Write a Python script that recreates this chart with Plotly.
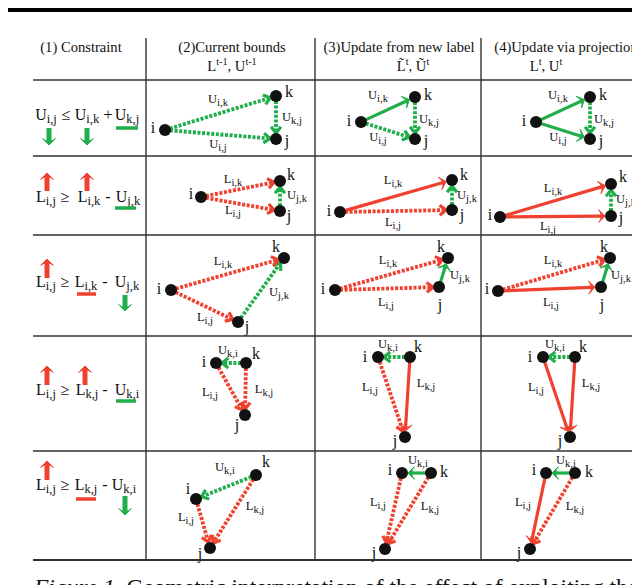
import math
import plotly.graph_objects as go

FONT = "Liberation Serif, 'Times New Roman', Times, serif"
GREEN = "#1fae4a"
RED = "#f0412f"
INK = "#111111"

# ---------------- header ----------------
COL_TITLES = ["(1) Constraint", "(2)Current bounds", "(3)Update from new label", "(4)Update via projection"]
COL_TITLE_X = [73, 224, 391, 558]
COL_SUBS = ["L<sup>t-1</sup>, U<sup>t-1</sup>", "L\u0303<sup>t</sup>, \u0168<sup>t</sup>", "L<sup>t</sup>, U<sup>t</sup>"]
COL_SUB_X = [224, 405, 538]

# ---------------- constraint column ----------------
ROW_TEXT_Y = [108, 190, 275, 383, 478]
ROW_TERMS = [
    ["U|i,j", "\u2264", "U|i,k", "+", "U|k,j"],
    ["L|i,j", "\u2265", "L|i,k", "-", "U|j,k"],
    ["L|i,j", "\u2265", "L|i,k", "-", "U|j,k"],
    ["L|i,j", "\u2265", "L|k,j", "-", "U|k,i"],
    ["L|i,j", "\u2265", "L|k,j", "-", "U|k,i"],
]
ROW_TERM_X = [
    [38, 58, 79, 100, 119],
    [38, 57, 81, 100, 120],
    [38, 57, 78, 97, 119],
    [38, 57, 79, 97, 119],
    [38, 57, 78, 97, 116],
]
UP_X = [39, 79, 39, 39, 77, 39]
UP_TIP = [165, 165, 251, 358, 358, 453]
UP_TAIL = [183, 183, 270, 377, 377, 472]
DOWN_X = [41, 79, 117, 117]
DOWN_TAIL = [120, 120, 287, 488]
DOWN_TIP = [137, 137, 303, 507]
UNDER_X0 = [108, 107, 69, 108, 68]
UNDER_X1 = [130, 128, 88, 128, 88]
UNDER_Y = [120, 200, 286, 393, 491]
UNDER_C = ["g", "g", "r", "g", "r"]

# ---------------- diagrams (rows 1-5 x columns 2-4) ----------------
I_X = [157, 353, 528, 193, 332, 492, 163, 327, 490, 208, 370, 535, 188, 394, 538]
I_Y = [122, 114, 114, 189, 204, 209, 282, 282, 283, 355, 349, 349, 491, 465, 465]
K_X = [268, 407, 582, 272, 444, 603, 276, 440, 602, 238, 402, 567, 248, 423, 567]
K_Y = [88, 89, 89, 173, 172, 176, 250, 250, 250, 355, 349, 349, 467, 465, 465]
J_X = [268, 407, 582, 272, 444, 603, 230, 431, 593, 237, 397, 562, 202, 377, 522]
J_Y = [131, 131, 131, 203, 202, 208, 314, 279, 279, 407, 429, 429, 540, 541, 541]

I_LX = [145, 341, 516, 183, 321, 482, 151, 315, 479, 196, 357, 522, 180, 382, 526]
I_LY = [121, 114, 114, 187, 204, 208, 282, 282, 282, 355, 350, 350, 482, 463, 463]
K_LX = [281, 420, 595, 283, 456, 615, 268, 433, 596, 248, 410, 575, 258, 436, 581]
K_LY = [85, 88, 88, 168, 168, 170, 240, 240, 240, 347, 340, 340, 455, 465, 465]
J_LX = [279, 418, 593, 281, 454, 613, 239, 432, 594, 229, 387, 552, 192, 366, 511]
J_LY = [134, 134, 134, 209, 208, 211, 320, 298, 298, 418, 434, 434, 547, 546, 546]

ROW_EDGE_FROM = [["i", "k", "i"], ["i", "i", "j"], ["i", "i", "j"], ["k", "i", "k"], ["k", "i", "k"]]
ROW_EDGE_TO = [["k", "j", "j"], ["k", "j", "k"], ["k", "j", "k"], ["i", "j", "j"], ["i", "j", "j"]]
ROW_EDGE_COLOR = [["g", "g", "g"], ["r", "r", "g"], ["r", "r", "g"], ["g", "r", "r"], ["g", "r", "r"]]
ROW_EDGE_TEXT = [
    ["U|i,k", "U|k,j", "U|i,j"],
    ["L|i,k", "L|i,j", "U|j,k"],
    ["L|i,k", "L|i,j", "U|j,k"],
    ["U|k,i", "L|i,j", "L|k,j"],
    ["U|k,i", "L|i,j", "L|k,j"],
]
EDGE_STYLE = ["ddd", "sdd", "sds",
              "ddd", "sdd", "ssd",
              "ddd", "dds", "dss",
              "ddd", "dds", "dss",
              "ddd", "sdd", "ssd"]
EDGE_LX = [[210, 284, 210], [370, 421, 370], [550, 596, 550],
           [225, 225, 289], [385, 385, 459], [545, 540, 618],
           [215, 197, 271], [380, 378, 452], [545, 543, 613],
           [220, 202, 256], [380, 362, 418], [547, 528, 583],
           [217, 178, 247], [410, 370, 422], [558, 515, 567]]
EDGE_LY = [[92, 110, 137], [88, 112, 130], [88, 112, 130],
           [172, 203, 188], [173, 215, 188], [181, 219, 192],
           [254, 310, 285], [253, 295, 268], [253, 295, 268],
           [343, 385, 382], [337, 380, 376], [337, 380, 376],
           [460, 510, 499], [453, 495, 499], [453, 495, 499]]

H_LINES_Y = [72, 148, 227, 328, 443, 552]
V_LINES_X = [138, 307, 473]
CAPTION = "<i>Figure 1.</i> Geometric interpretation of the effect of exploiting the"

# ---------------- build ----------------
COLORS = {"g": GREEN, "r": RED}
fig = go.Figure()
shapes = []
texts = {}


def symb(s, subpx):
    """'U|i,j' -> U with a fairly large subscript."""
    if "|" not in s:
        return s
    base, sub = s.split("|")
    return f"{base}<sub><span style='font-size:{subpx}px'>{sub}</span></sub>"


def txt(x, y, s, size, pos="middle center"):
    tx, ty, tt = texts.setdefault((size, pos), ([], [], []))
    tx.append(x)
    ty.append(y)
    tt.append(s)


def screen_angle(ux, uy):
    return math.degrees(math.atan2(ux, -uy))


# table lines
shapes.append(dict(type="rect", xref="x", yref="y", x0=0, x1=640, y0=0, y1=4,
                   fillcolor="black", line=dict(width=0)))
for n, y in enumerate(H_LINES_Y):
    shapes.append(dict(type="line", xref="x", yref="y", x0=25, x1=635, y0=y, y1=y,
                       line=dict(color="#333333", width=1.8 if n == len(H_LINES_Y) - 1 else 1.4)))
for x in V_LINES_X:
    shapes.append(dict(type="line", xref="x", yref="y", x0=x, x1=x, y0=30, y1=H_LINES_Y[-1],
                       line=dict(color="#333333", width=1.4)))

# header
for t, x in zip(COL_TITLES, COL_TITLE_X):
    txt(x, 40, t, 14.6)
for t, x in zip(COL_SUBS, COL_SUB_X):
    txt(x, 59, t, 14.6)

# constraint column
for r in range(5):
    for t, x in zip(ROW_TERMS[r], ROW_TERM_X[r]):
        txt(x, ROW_TEXT_Y[r], symb(t, 12.5), 16)

heads = {"g": ([], [], []), "r": ([], [], [])}
shafts = {}
chevrons = {"g": ([], []), "r": ([], [])}


def add_shaft(key, x0, y0, x1, y1):
    sx, sy = shafts.setdefault(key, ([], []))
    sx += [x0, x1, None]
    sy += [y0, y1, None]


for x, tip, tail in zip(UP_X, UP_TIP, UP_TAIL):
    add_shaft(("r", "big"), x, tail, x, tip + 4)
    hx, hy, ha = heads["r"]
    hx.append(x); hy.append(tip); ha.append(0)
for x, tip, tail in zip(DOWN_X, DOWN_TIP, DOWN_TAIL):
    add_shaft(("g", "big"), x, tail, x, tip - 4)
    hx, hy, ha = heads["g"]
    hx.append(x); hy.append(tip); ha.append(180)
for x0, x1, y, c in zip(UNDER_X0, UNDER_X1, UNDER_Y, UNDER_C):
    shapes.append(dict(type="line", xref="x", yref="y", x0=x0, x1=x1, y0=y, y1=y,
                       line=dict(color=COLORS[c], width=3.5)))

# edges
for c in range(15):
    r = c // 3
    pts = {"i": (I_X[c], I_Y[c]), "k": (K_X[c], K_Y[c]), "j": (J_X[c], J_Y[c])}
    for e in range(3):
        p = pts[ROW_EDGE_FROM[r][e]]
        q = pts[ROW_EDGE_TO[r][e]]
        col = ROW_EDGE_COLOR[r][e]
        st = EDGE_STYLE[c][e]
        dx, dy = q[0] - p[0], q[1] - p[1]
        L = math.hypot(dx, dy)
        ux, uy = dx / L, dy / L
        sx, sy = p[0] + ux * 5, p[1] + uy * 5
        tx, ty = q[0] - ux * 6, q[1] - uy * 6
        if st == "s":
            add_shaft((col, "s"), sx, sy, tx - ux * 4, ty - uy * 4)
            hx, hy, ha = heads[col]
            hx.append(tx); hy.append(ty); ha.append(screen_angle(ux, uy))
        else:
            add_shaft((col, "d"), sx, sy, tx - ux * 1.5, ty - uy * 1.5)
            cx, cy = chevrons[col]
            for sgn in (1, -1):
                a = math.radians(38) * sgn
                bx = -(ux * math.cos(a) - uy * math.sin(a))
                by = -(ux * math.sin(a) + uy * math.cos(a))
                cx += [tx + bx * 8, tx, None]
                cy += [ty + by * 8, ty, None]
        txt(EDGE_LX[c][e], EDGE_LY[c][e], symb(ROW_EDGE_TEXT[r][e], 10.5), 12.5)
    txt(I_LX[c], I_LY[c], "i", 16)
    txt(K_LX[c], K_LY[c], "k", 16)
    txt(J_LX[c], J_LY[c], "j", 16)

for (col, st), (gx, gy) in shafts.items():
    if st == "big":
        ln = dict(color=COLORS[col], width=5)
    elif st == "s":
        ln = dict(color=COLORS[col], width=3.2)
    else:
        ln = dict(color=COLORS[col], width=3.8, dash="3px,1.6px")
    fig.add_trace(go.Scatter(x=gx, y=gy, mode="lines", hoverinfo="skip",
                             showlegend=False, line=ln))
for col, (cx, cy) in chevrons.items():
    fig.add_trace(go.Scatter(x=cx, y=cy, mode="lines", hoverinfo="skip", showlegend=False,
                             line=dict(color=COLORS[col], width=3.2)))
for col, (hx, hy, ha) in heads.items():
    fig.add_trace(go.Scatter(x=hx, y=hy, mode="markers", hoverinfo="skip", showlegend=False,
                             marker=dict(symbol="arrow-wide", size=9, angle=ha,
                                         color=COLORS[col],
                                         line=dict(color=COLORS[col], width=1))))

fig.add_trace(go.Scatter(x=I_X + K_X + J_X, y=I_Y + K_Y + J_Y, mode="markers",
                         hoverinfo="skip", showlegend=False,
                         marker=dict(size=12, color=INK)))

txt(26, 581, CAPTION, 23.5, "middle right")

for (size, pos), (tx, ty, tt) in texts.items():
    fig.add_trace(go.Scatter(x=tx, y=ty, text=tt, mode="text", textposition=pos,
                             hoverinfo="skip", showlegend=False, cliponaxis=False,
                             textfont=dict(family=FONT, size=size, color=INK)))

fig.update_layout(
    width=640, height=585, autosize=False,
    margin=dict(l=0, r=0, t=0, b=0),
    paper_bgcolor="white", plot_bgcolor="white",
    xaxis=dict(range=[0, 640], visible=False, fixedrange=True),
    yaxis=dict(range=[585, 0], visible=False, fixedrange=True),
    shapes=shapes,
)
fig.write_html("out.html")
